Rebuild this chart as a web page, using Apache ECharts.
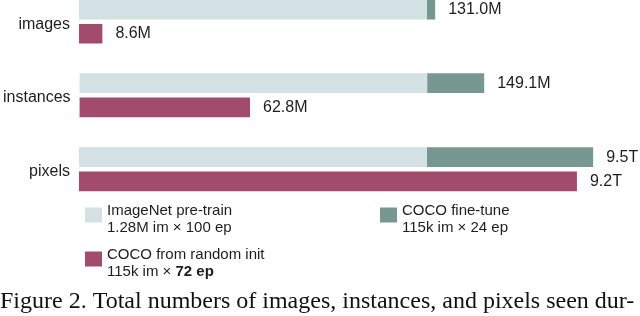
<!DOCTYPE html>
<html><head><meta charset="utf-8">
<script src="https://cdn.jsdelivr.net/npm/echarts@6/dist/echarts.min.js"></script>
<style>html,body{margin:0;padding:0;background:#fff}#c{width:640px;height:316px}</style>
</head><body><div id="c"></div>
<script>
// Data
const categories = ['images', 'instances', 'pixels'];
const units = ['M', 'M', 'T'];
const pretrain = [128.0, 128.1, 6.43];   // ImageNet pre-train
const finetune = [3.0, 21.0, 3.07];      // COCO fine-tune (stacked on pre-train)
const randomInit = [8.6, 62.8, 9.2];     // COCO from random init
const legendNames = ['ImageNet pre-train', 'COCO fine-tune', 'COCO from random init'];
const legendSub = ['1.28M im × 100 ep', '115k im × 24 ep', '115k im × {b|72 ep}'];
const caption = 'Figure 2. Total numbers of images, instances, and pixels seen dur-';

const C_PRE = '#D3E1E4', C_FT = '#769891', C_RND = '#A34B6B';
const TXT = '#1e1e1e';
const FONT = 'Liberation Sans';
const SCALE = 561 / 348;
const tops = [-0.5, 73.3, 147.3];

const grids = [], xAxes = [], yAxes = [], series = [];
categories.forEach((cat, i) => {
  grids.push({left: 79, right: 0, top: tops[i], height: 44, containLabel: false});
  xAxes.push({gridIndex: i, type: 'value', min: 0, max: pretrain[i] * SCALE, show: false});
  yAxes.push({gridIndex: i, type: 'category', data: [cat], inverse: true,
    axisLine: {show: false}, axisTick: {show: false}, splitLine: {show: false},
    axisLabel: {margin: 9, color: TXT, formatter: '{a|{value}}',
      rich: {a: {fontSize: 16, color: TXT, fontFamily: FONT, padding: [5, 0, 0, 0]}}}});
  const total = pretrain[i] + finetune[i];
  series.push({name: legendNames[0], type: 'bar', xAxisIndex: i, yAxisIndex: i, stack: 's' + i,
    barWidth: 20, barGap: '22%', itemStyle: {color: C_PRE}, data: [pretrain[i]], silent: true});
  series.push({name: legendNames[1], type: 'bar', xAxisIndex: i, yAxisIndex: i, stack: 's' + i,
    barWidth: 20, barGap: '22%', itemStyle: {color: C_FT}, data: [finetune[i]], silent: true,
    label: {show: true, position: 'right', distance: 13, fontSize: 16, color: TXT, fontFamily: FONT,
      padding: [3, 0, 0, 0], formatter: () => total.toFixed(1) + units[i]}});
  series.push({name: legendNames[2], type: 'bar', xAxisIndex: i, yAxisIndex: i,
    barWidth: 20, barGap: '22%', itemStyle: {color: C_RND}, data: [randomInit[i]], silent: true,
    label: {show: true, position: 'right', distance: 13, fontSize: 16, color: TXT, fontFamily: FONT,
      padding: [3, 0, 0, 0], formatter: () => randomInit[i].toFixed(1) + units[i]}});
});

function mkLegend(idx, left, top) {
  return {
    data: [legendNames[idx]], left: left, top: top, padding: 0, orient: 'vertical',
    icon: 'rect', itemWidth: 17, itemHeight: 15, selectedMode: false,
    formatter: (n) => n + '\n' + legendSub[idx],
    textStyle: {fontSize: 15, lineHeight: 17, color: TXT, fontFamily: FONT, padding: [8, 0, 0, 0],
      rich: {b: {fontWeight: 'bold', fontSize: 15, lineHeight: 17, color: TXT, fontFamily: FONT}}}
  };
}

const chart = echarts.init(document.getElementById('c'), null, {renderer: 'canvas'});
chart.setOption({
  animation: false,
  backgroundColor: '#fff',
  title: {text: caption, left: 0, top: 290, padding: 0,
    textStyle: {fontFamily: 'Liberation Serif', fontSize: 24, fontWeight: 'normal', color: '#111'}},
  grid: grids, xAxis: xAxes, yAxis: yAxes, series: series,
  legend: [mkLegend(0, 85, 194), mkLegend(1, 380, 194), mkLegend(2, 85, 238)]
});
</script></body></html>
